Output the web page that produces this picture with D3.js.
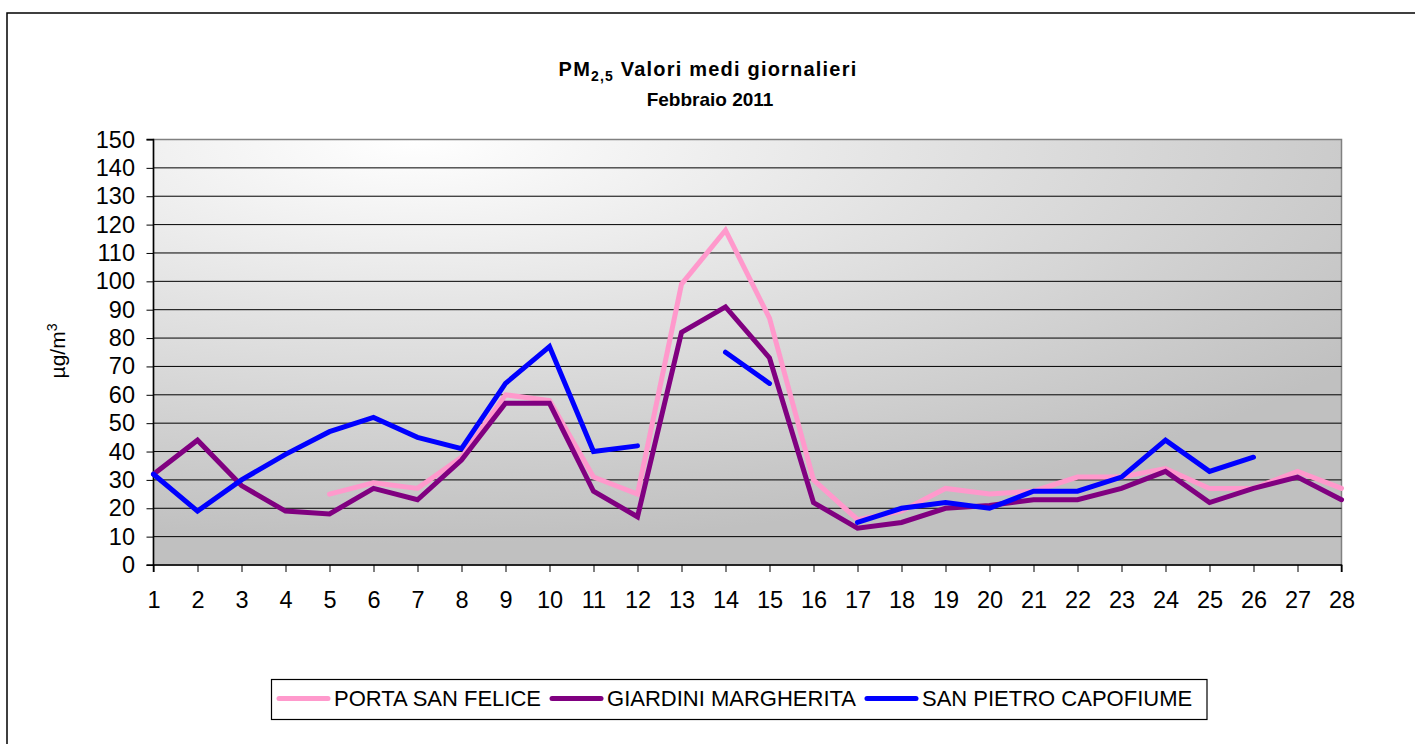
<!DOCTYPE html>
<html>
<head>
<meta charset="utf-8">
<script src="https://cdn.jsdelivr.net/npm/d3@7"></script>
<style>
  body { margin: 0; background: #fff; }
  svg text { font-family: "Liberation Sans", Arial, sans-serif; }
</style>
</head>
<body>
<svg id="chart"></svg>
<script>
const w = 1415, h = 744,
  plot = { left: 153.5, right: 1341.5, top: 139.5, bottom: 565 };

// giorni di febbraio 2011
const days = d3.range(1, 29);
const seriesNames = ["PORTA SAN FELICE", "GIARDINI MARGHERITA", "SAN PIETRO CAPOFIUME"];
const seriesColors = ["#FF99CC", "#800080", "#0000FF"];
const portaSanFelice = [null, null, null, null, 25, 29, 27, 38, 60, 58, 31, 25, 99, 118, 87, 30, 16, 19, 27, 25, 26, 31, 31, 34, 27, 27, 33, 27];
const giardiniMargherita = [32, 44, 28, 19, 18, 27, 23, 37, 57, 57, 26, 17, 82, 91, 73, 22, 13, 15, 20, 21, 23, 23, 27, 33, 22, 27, 31, 23];
const sanPietroCapofiume = [32, 19, 30, 39, 47, 52, 45, 41, 64, 77, 40, 42, null, 75, 64, null, 15, 20, 22, 20, 26, 26, 31, 44, 33, 38, null, null];
const yTicks = d3.range(0, 151, 10);

const series = [portaSanFelice, giardiniMargherita, sanPietroCapofiume];

const svg = d3.select("#chart")
  .attr("width", w)
  .attr("height", h)
  .attr("viewBox", [0, 0, w, h]);

// outer frame
svg.append("rect")
  .attr("x", 7).attr("y", 13)
  .attr("width", w + 20).attr("height", h + 20)
  .attr("fill", "#fff")
  .attr("stroke", "#000")
  .attr("stroke-width", 1.5);

const x = d3.scaleLinear()
  .domain([1, 28])
  .range([plot.left, plot.right]);

const y = d3.scaleLinear()
  .domain([0, 150])
  .range([plot.bottom, plot.top]);

const defs = svg.append("defs");
const grad = defs.append("radialGradient")
  .attr("id", "bg")
  .attr("cx", 0.22).attr("cy", 0)
  .attr("fx", 0.22).attr("fy", 0)
  .attr("r", 1);
grad.append("stop").attr("offset", 0).attr("stop-color", "#ffffff");
grad.append("stop").attr("offset", 0.95).attr("stop-color", "#c0c0c0");

svg.append("rect")
  .attr("x", plot.left).attr("y", plot.top)
  .attr("width", plot.right - plot.left)
  .attr("height", plot.bottom - plot.top)
  .attr("fill", "url(#bg)")
  .attr("stroke", "#808080")
  .attr("stroke-width", 1.5);

// grid
svg.append("g")
  .selectAll("line")
  .data(yTicks.filter(t => t > 0 && t < 150))
  .join("line")
  .attr("x1", plot.left).attr("x2", plot.right)
  .attr("y1", d => y(d)).attr("y2", d => y(d))
  .attr("stroke", "#000")
  .attr("stroke-width", 1);

// axes
const yAxis = d3.axisLeft(y).tickValues(yTicks).tickSize(7).tickPadding(11.5);
const yg = svg.append("g")
  .attr("transform", `translate(${plot.left},0)`)
  .call(yAxis);

const xAxis = d3.axisBottom(x).tickValues(days).tickFormat(d3.format("d")).tickSize(7).tickPadding(19);
const xg = svg.append("g")
  .attr("transform", `translate(0,${plot.bottom})`)
  .call(xAxis);

[yg, xg].forEach(g => {
  g.select(".domain").attr("stroke", "#000").attr("stroke-width", 1.5);
  g.selectAll(".tick line").attr("stroke", "#000");
  g.selectAll(".tick text")
    .attr("fill", "#000")
    .attr("font-size", 23.5)
    .attr("font-family", "'Liberation Sans', Arial, sans-serif");
});
yg.select(".domain").attr("d", `M-7,${plot.top}H0V${plot.bottom}H-7`);
xg.select(".domain").attr("d", `M${plot.left},7V0H${plot.right}V7`);

// lines
const line = d3.line()
  .defined(d => d.v != null)
  .x(d => x(d.day))
  .y(d => y(d.v));

svg.append("g")
  .selectAll("path")
  .data(series)
  .join("path")
  .attr("d", s => line(s.map((v, i) => ({ day: days[i], v }))))
  .attr("fill", "none")
  .attr("stroke", (s, i) => seriesColors[i])
  .attr("stroke-width", 5)
  .attr("stroke-linecap", "round")
  .attr("stroke-linejoin", "miter");

// titles
const title = svg.append("text")
  .attr("x", 708)
  .attr("y", 76)
  .attr("text-anchor", "middle")
  .attr("font-weight", "bold")
  .attr("font-size", 20)
  .attr("letter-spacing", 1.2);
title.append("tspan").text("PM");
title.append("tspan").attr("font-size", 14).attr("dy", 5).text("2,5");
title.append("tspan").attr("dy", -5).text(" Valori medi giornalieri");

svg.append("text")
  .attr("x", 710)
  .attr("y", 106)
  .attr("text-anchor", "middle")
  .attr("font-weight", "bold")
  .attr("font-size", 19)
  .text("Febbraio 2011");

const ylab = svg.append("text")
  .attr("transform", "translate(65,351) rotate(-90)")
  .attr("text-anchor", "middle")
  .attr("font-size", 21);
ylab.append("tspan").text("µg/m");
ylab.append("tspan").attr("font-size", 14).attr("dy", -8).text("3");

// legend
const legend = svg.append("g");
legend.append("rect")
  .attr("x", 271.5).attr("y", 679.5)
  .attr("width", 935.5).attr("height", 40)
  .attr("fill", "#fff")
  .attr("stroke", "#000")
  .attr("stroke-width", 1.2);

let lx = 279;
seriesNames.forEach((name, i) => {
  legend.append("line")
    .attr("x1", lx).attr("x2", lx + 49)
    .attr("y1", 698.5).attr("y2", 698.5)
    .attr("stroke", seriesColors[i])
    .attr("stroke-width", 5)
    .attr("stroke-linecap", "round");
  const t = legend.append("text")
    .attr("x", lx + 55)
    .attr("y", 705.5)
    .attr("font-size", 22)
    .text(name);
  lx += 55 + t.node().getComputedTextLength() + 11;
});
</script>
</body>
</html>
